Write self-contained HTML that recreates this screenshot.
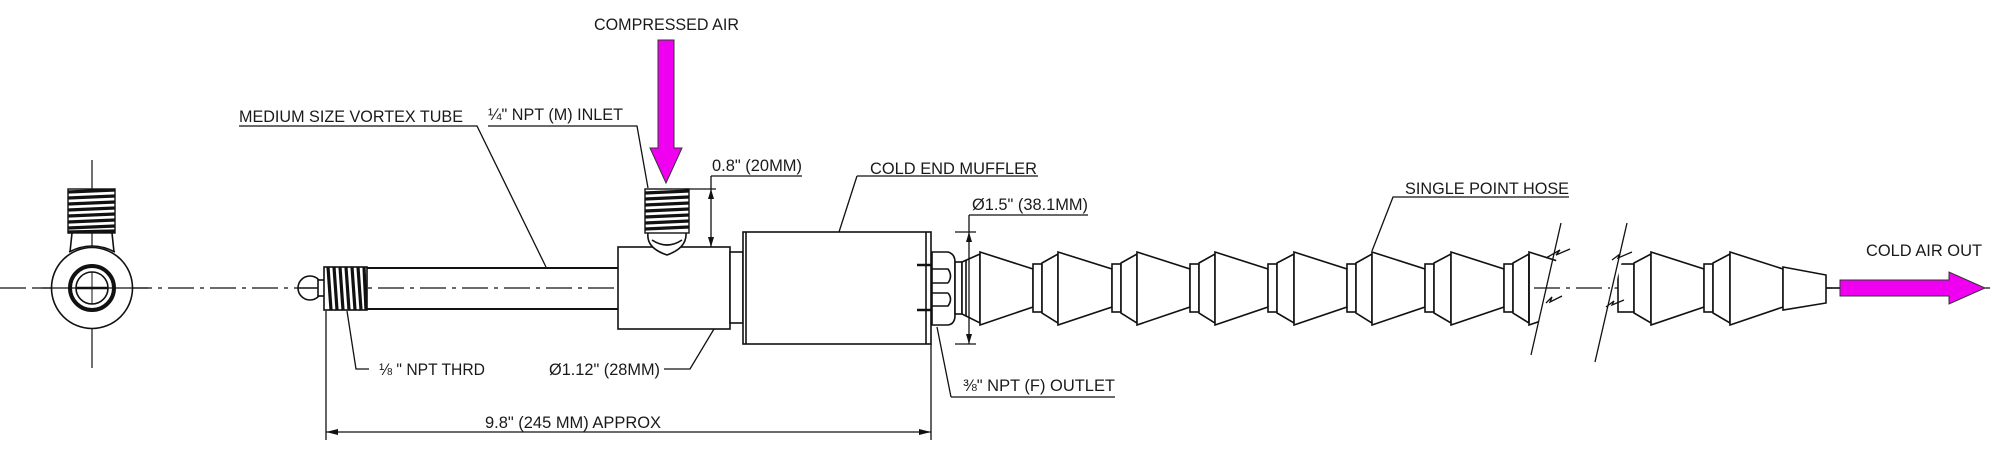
<!DOCTYPE html>
<html><head><meta charset="utf-8"><style>
html,body{margin:0;padding:0;background:#fff;width:2012px;height:460px;overflow:hidden}
svg text{font-family:"Liberation Sans",Arial,sans-serif;font-size:17px;fill:#1a1a1a}
</style></head><body>
<svg width="2012" height="460" viewBox="0 0 2012 460" xmlns="http://www.w3.org/2000/svg">
<g fill="none" stroke="#111" stroke-width="1.6">
<line x1="0" y1="288" x2="1990" y2="288" stroke-width="1.2" stroke-dasharray="26,6,4,6"/>
<line x1="92" y1="160" x2="92" y2="368" stroke-width="1.2" stroke-dasharray="40,6,4,6"/>
<path d="M72 233 L70 252 M112 233 L114 252"/>
<path d="M69 252 Q92 240 115 252"/>
<circle cx="92" cy="288" r="40.5" fill="#fff"/>
<circle cx="92" cy="288" r="22" stroke-width="4"/>
<circle cx="92" cy="288" r="16"/>
<line x1="76" y1="288" x2="108" y2="288" stroke-width="2.5"/>
<line x1="92" y1="272" x2="92" y2="304" stroke-width="1"/>
<line x1="36" y1="288" x2="148" y2="288" stroke-width="1.2"/>
<rect x="68" y="189" width="47" height="44" fill="#fff" stroke-width="1.4"/>
<g stroke-width="3.2"><line x1="68" y1="192" x2="115" y2="190"/><line x1="68" y1="198" x2="115" y2="196"/><line x1="68" y1="204" x2="115" y2="202"/><line x1="68" y1="210" x2="115" y2="208"/><line x1="68" y1="216" x2="115" y2="214"/><line x1="68" y1="222" x2="115" y2="220"/><line x1="68" y1="228" x2="115" y2="226"/><line x1="68" y1="232" x2="115" y2="231"/></g>

<circle cx="310" cy="288" r="12" fill="#fff"/>
<line x1="298" y1="288" x2="322" y2="288"/>
<rect x="318" y="280" width="8" height="16" fill="#fff"/>
<rect x="324" y="267" width="43" height="43" fill="#fff"/>
<g stroke-width="3.2"><line x1="328" y1="267" x2="331" y2="310"/><line x1="334" y1="267" x2="337" y2="310"/><line x1="340" y1="267" x2="343" y2="310"/><line x1="346" y1="267" x2="349" y2="310"/><line x1="352" y1="267" x2="355" y2="310"/><line x1="358" y1="267" x2="361" y2="310"/><line x1="364" y1="267" x2="366" y2="310"/></g>
<line x1="367" y1="268" x2="619" y2="268" stroke-width="2"/>
<line x1="367" y1="309" x2="619" y2="309" stroke-width="2"/>
<rect x="618" y="247" width="112" height="82" fill="#fff"/>
<path d="M648 233 Q646 248 667 255 Q687 248 686 233" fill="#fff"/>
<path d="M652 240 Q667 250 682 240"/>
<rect x="645" y="189" width="44" height="44" fill="#fff" stroke-width="1.4"/>
<g stroke-width="3.2"><line x1="645" y1="193" x2="689" y2="191"/><line x1="645" y1="199" x2="689" y2="197"/><line x1="645" y1="205" x2="689" y2="203"/><line x1="645" y1="211" x2="689" y2="209"/><line x1="645" y1="217" x2="689" y2="215"/><line x1="645" y1="223" x2="689" y2="221"/><line x1="645" y1="229" x2="689" y2="227"/></g>
<rect x="730" y="252" width="13" height="71" fill="#fff"/>
<rect x="743" y="232" width="188" height="112" fill="#fff"/>
<line x1="746" y1="232" x2="746" y2="344"/>
<line x1="926" y1="232" x2="926" y2="344"/>
<line x1="917" y1="265" x2="932" y2="265" stroke-width="2.5"/>
<line x1="917" y1="310" x2="932" y2="310" stroke-width="2.5"/>
<path d="M932 252 L948 252 Q955 254 955 262 L955 315 Q955 324 948 325 L932 325 Z" fill="#fff"/>
<path d="M932 269 L948 269 Q953 276 948 283 M932 306 L948 306 Q953 299 948 293 M948 283 L932 283 M948 293 L932 293"/>
<rect x="955" y="262" width="7" height="52" fill="#fff"/>
<polygon points="962,262 980,254 980,323 962,314" fill="#fff"/>
<line x1="966" y1="260" x2="966" y2="316"/>

<g fill="#fff">
<polygon points="980,252 1033,269 1033,307 980,325"/><rect x="1033" y="264" width="9" height="48"/><polygon points="1042,263 1058,254 1058,323 1042,313"/>
<polygon points="1058,252 1112,269 1112,307 1058,325"/><rect x="1112" y="264" width="9" height="48"/><polygon points="1121,263 1137,254 1137,323 1121,313"/>
<polygon points="1137,252 1190,269 1190,307 1137,325"/><rect x="1190" y="264" width="9" height="48"/><polygon points="1199,263 1215,254 1215,323 1199,313"/>
<polygon points="1215,252 1268,269 1268,307 1215,325"/><rect x="1268" y="264" width="9" height="48"/><polygon points="1277,263 1294,254 1294,323 1277,313"/>
<polygon points="1294,252 1347,269 1347,307 1294,325"/><rect x="1347" y="264" width="9" height="48"/><polygon points="1356,263 1372,254 1372,323 1356,313"/>
<polygon points="1372,252 1425,269 1425,307 1372,325"/><rect x="1425" y="264" width="9" height="48"/><polygon points="1434,263 1451,254 1451,323 1434,313"/>
<polygon points="1451,252 1504,269 1504,307 1451,325"/><rect x="1504" y="264" width="9" height="48"/><polygon points="1513,263 1529,254 1529,323 1513,313"/>
<polygon points="1529,252 1570,265 1570,311 1529,325"/>
<rect x="1618" y="264" width="16" height="48"/><polygon points="1634,263 1651,254 1651,323 1634,313"/>
<polygon points="1651,252 1704,269 1704,307 1651,325"/><rect x="1704" y="264" width="9" height="48"/><polygon points="1713,263 1730,254 1730,323 1713,313"/>
<polygon points="1730,252 1783,269 1783,307 1730,325"/>
<polygon points="1783,267 1826,275 1826,303 1783,310"/>
</g>
<line x1="1529" y1="254" x2="1529" y2="323"/>
<line x1="1826" y1="288" x2="1840" y2="288"/>
<polygon points="1562,240 1628,240 1600,340 1534,340" fill="#fff" stroke="none"/>
<line x1="1534" y1="288" x2="1610" y2="288" stroke-width="1.2" stroke-dasharray="26,6,4,6"/>
<line x1="1561" y1="223" x2="1531" y2="355" stroke-width="1.3"/>
<line x1="1627" y1="223" x2="1595" y2="362" stroke-width="1.3"/>
<path d="M1546 258 L1560 250 L1556 255 L1570 249 M1546 303 L1552 297 L1550 302 L1562 296" stroke-width="1.3"/>
<path d="M1612 260 L1620 254 L1618 258 L1632 252 M1606 307 L1614 301 L1612 305 L1624 300" stroke-width="1.3"/>

<g stroke-width="1.3">
<path d="M239 126 L477 126 L546 267"/>
<path d="M488 126 L637 126 L648 188"/>
<path d="M684 189 L716 189"/>
<path d="M711 176 L802 176 M711 176 L711 247"/>
<path d="M870 176 L1038 176 M857 176 L839 232 M857 176 L870 176"/>
<path d="M969 215 L1088 215 M969 215 L969 344 M955 232 L976 232 M955 344 L976 344"/>
<path d="M1393 197 L1569 197 L1393 197 L1372 251"/>
<path d="M347 311 L356 369 L369 369"/>
<path d="M664 369 L690 369 L714 329"/>
<path d="M951 397 L1115 397 M951 397 L937 327"/>
<path d="M326 311 L326 440 M931 344 L931 440 M326 432 L931 432"/>
</g>
</g>
<g fill="#111">
<polygon points="711,189 708,199 714,199"/><polygon points="711,247 708,237 714,237"/>
<polygon points="969,232 966,242 972,242"/><polygon points="969,344 966,334 972,334"/>
<polygon points="326,432 338,429 338,435"/><polygon points="931,432 919,429 919,435"/>
</g>
<g fill="#f000f0" stroke="#333" stroke-width="1">
<polygon points="658,40 674,40 674,148 682,148 666,183 650,148 658,148"/>
<polygon points="1840,280 1949,280 1949,272 1985,288 1949,304 1949,296 1840,296"/>
</g>
<text x="594" y="30" textLength="145" lengthAdjust="spacingAndGlyphs">COMPRESSED AIR</text>
<text x="239" y="122" textLength="224" lengthAdjust="spacingAndGlyphs">MEDIUM SIZE VORTEX TUBE</text>
<text x="488" y="120" textLength="135" lengthAdjust="spacingAndGlyphs">¼" NPT (M) INLET</text>
<text x="712" y="171" textLength="90" lengthAdjust="spacingAndGlyphs">0.8" (20MM)</text>
<text x="870" y="174" textLength="167" lengthAdjust="spacingAndGlyphs">COLD END MUFFLER</text>
<text x="972" y="210" textLength="116" lengthAdjust="spacingAndGlyphs">Ø1.5" (38.1MM)</text>
<text x="1405" y="194" textLength="164" lengthAdjust="spacingAndGlyphs">SINGLE POINT HOSE</text>
<text x="1866" y="256" textLength="116" lengthAdjust="spacingAndGlyphs">COLD AIR OUT</text>
<text x="379" y="375" textLength="106" lengthAdjust="spacingAndGlyphs">⅛ " NPT THRD</text>
<text x="549" y="375" textLength="111" lengthAdjust="spacingAndGlyphs">Ø1.12" (28MM)</text>
<text x="963" y="391" textLength="152" lengthAdjust="spacingAndGlyphs">⅜" NPT (F) OUTLET</text>
<text x="485" y="428" textLength="176" lengthAdjust="spacingAndGlyphs">9.8" (245 MM) APPROX</text>
</svg>
</body></html>
